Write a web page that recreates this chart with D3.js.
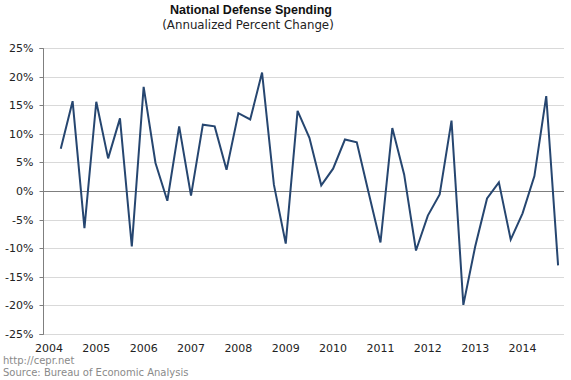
<!DOCTYPE html>
<html>
<head>
<meta charset="utf-8">
<script src="https://cdn.jsdelivr.net/npm/d3@7"></script>
<style>
  body { margin: 0; background: #fff; }
  svg { display: block; font-family: "DejaVu Sans", Verdana, sans-serif; }
</style>
</head>
<body>
<svg id="chart" width="571" height="380"></svg>
<script>
// years on the axis, four quarters each
let years = [2004, 2005, 2006, 2007, 2008, 2009, 2010, 2011, 2012, 2013, 2014];
let quarters = [];
years.forEach(y => [1, 2, 3, 4].forEach(q => quarters.push(y + "Q" + q)));

// annualized percent change, 2004Q1 has no value
let spending = [
  null, 7.4, 15.7, -6.5,
  15.6, 5.7, 12.7, -9.7,
  18.2, 4.9, -1.7, 11.3,
  -0.8, 11.6, 11.3, 3.7,
  13.6, 12.5, 20.7, 1.1,
  -9.2, 14.0, 9.3, 1.0,
  3.9, 9.0, 8.5, -0.3,
  -9.0, 11.0, 2.9, -10.4,
  -4.3, -0.6, 12.3, -19.9,
  -9.7, -1.3, 1.5, -8.5,
  -3.9, 2.6, 16.6, -13.0
];
let yTicks = [-25, -20, -15, -10, -5, 0, 5, 10, 15, 20, 25];

let data = quarters.map((q, i) => ({ q: q, v: spending[i] }));

let svg = d3.select("#chart");
let plotLeft = 43, plotRight = 564, plotTop = 48, plotBottom = 334;

let x = d3.scaleBand()
  .domain(quarters)
  .range([plotLeft, plotRight]);
let y = d3.scaleLinear()
  .domain([-25, 25])
  .range([plotBottom, plotTop]);

// gridlines
svg.append("g")
  .selectAll("line")
  .data(yTicks)
  .enter()
  .append("line")
  .attr("x1", plotLeft)
  .attr("x2", plotRight)
  .attr("y1", d => Math.round(y(d)) + 0.5)
  .attr("y2", d => Math.round(y(d)) + 0.5)
  .attr("stroke", d => d === 0 ? "#7f7f7f" : "#d9d9d9")
  .attr("stroke-width", 1);

// y axis
let yAxis = svg.append("g")
  .attr("transform", `translate(${plotLeft + 0.5},0)`)
  .call(d3.axisLeft(y).tickValues(yTicks).tickSize(4).tickPadding(6).tickFormat(d => d + "%"));
yAxis.select(".domain").attr("stroke", "#7f7f7f").attr("d", `M-4,${Math.round(y(25)) + 0.5}H0V${Math.round(y(-25)) + 0.5}H-4`);
yAxis.selectAll(".tick").attr("transform", d => `translate(0,${Math.round(y(d)) + 0.5})`);
yAxis.selectAll(".tick line").attr("stroke", "#7f7f7f");
yAxis.selectAll("text").attr("fill", "#222").style("font-size", "11px").style("font-family", "DejaVu Sans, Verdana, sans-serif");

// year labels under first quarter
svg.append("g")
  .selectAll("text")
  .data(years)
  .enter()
  .append("text")
  .attr("x", d => x(d + "Q1") + x.bandwidth() / 2)
  .attr("y", 352)
  .attr("text-anchor", "middle")
  .attr("fill", "#222")
  .style("font-size", "11px")
  .text(d => d);

// the line
let line = d3.line()
  .defined(d => d.v !== null)
  .x(d => x(d.q) + x.bandwidth() / 2)
  .y(d => y(d.v));

svg.append("path")
  .datum(data)
  .attr("d", line)
  .attr("fill", "none")
  .attr("stroke", "#264670")
  .attr("stroke-width", 2)
  .attr("stroke-linejoin", "miter");

// titles
svg.append("text")
  .attr("x", 251)
  .attr("y", 14)
  .attr("text-anchor", "middle")
  .style("font-family", "Liberation Sans, Arial, sans-serif")
  .style("font-weight", "bold")
  .style("font-size", "12.5px")
  .attr("fill", "#111")
  .text("National Defense Spending");

svg.append("text")
  .attr("x", 248)
  .attr("y", 29)
  .attr("text-anchor", "middle")
  .style("font-size", "11.8px")
  .attr("fill", "#222")
  .text("(Annualized Percent Change)");

// footer
svg.append("text")
  .attr("x", 3)
  .attr("y", 364)
  .style("font-size", "10px")
  .attr("fill", "#8a8a8a")
  .text("http://cepr.net");

svg.append("text")
  .attr("x", 3)
  .attr("y", 376)
  .style("font-size", "10px")
  .attr("fill", "#8a8a8a")
  .text("Source: Bureau of Economic Analysis");
</script>
</body>
</html>
